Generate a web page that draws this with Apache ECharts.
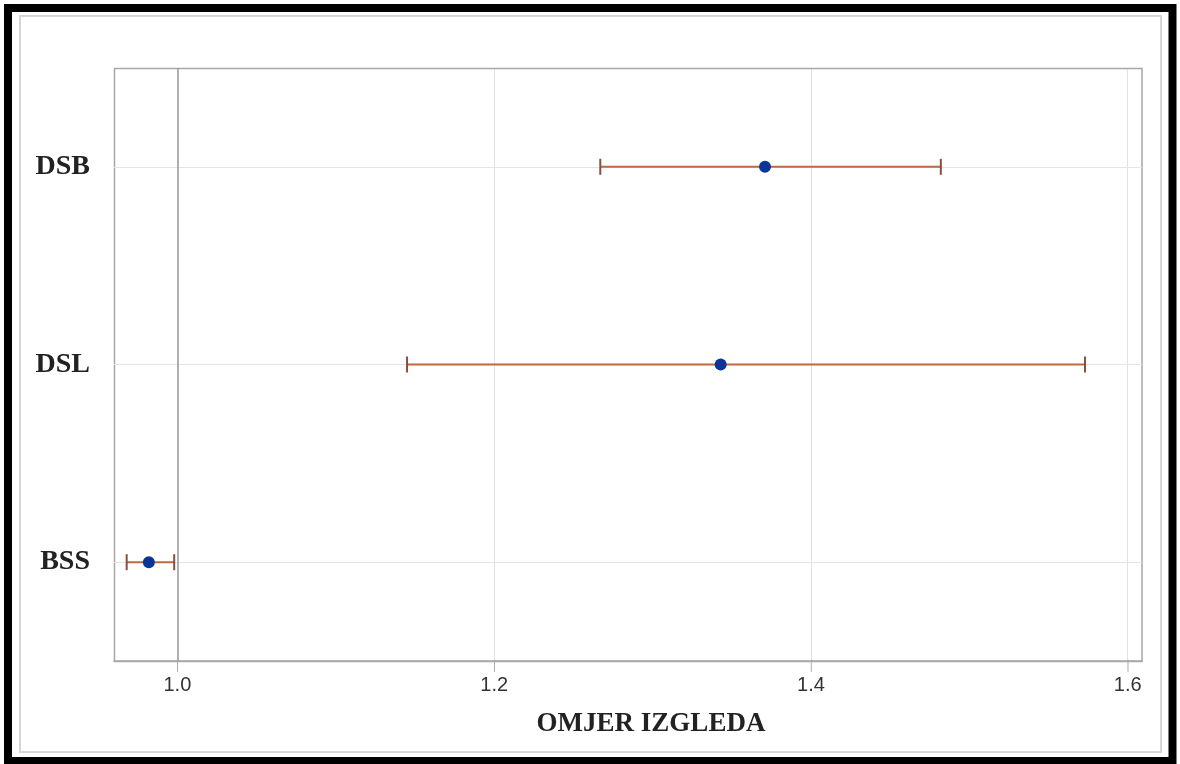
<!DOCTYPE html>
<html>
<head>
<meta charset="utf-8">
<script src="https://cdn.jsdelivr.net/npm/echarts@6/dist/echarts.min.js"></script>
<style>html,body{margin:0;padding:0;background:#fff;}#c{width:1180px;height:764px;}</style>
</head>
<body>
<div id="c"></div>
<script>
var categories = ['BSS', 'DSL', 'DSB'];
var estimates = [0.982, 1.343, 1.371];
var lowerCI = [0.968, 1.145, 1.267];
var upperCI = [0.998, 1.573, 1.482];
var xTicks = [1.0, 1.2, 1.4, 1.6];
var axisTitle = 'OMJER IZGLEDA';

var chart = echarts.init(document.getElementById('c'));
var ciData = categories.map(function (c, i) { return [i, lowerCI[i], upperCI[i]]; });
var ptData = categories.map(function (c, i) { return [estimates[i], i]; });

chart.setOption({
  animation: false,
  backgroundColor: '#ffffff',
  grid: { left: 114, right: 38, top: 68, bottom: 103, containLabel: false, show: false },
  xAxis: {
    type: 'value', min: 0.96, max: 1.609,
    name: axisTitle, nameLocation: 'middle', nameGap: 50,
    nameTextStyle: { fontFamily: 'Liberation Serif', fontWeight: 'bold', fontSize: 27, color: '#222', padding: [0, 0, 0, 46] },
    axisLine: { show: true, onZero: false, lineStyle: { color: '#a8a8a8', width: 1.5 } },
    axisTick: { show: false, customValues: xTicks },
    axisLabel: { customValues: xTicks, margin: 1, color: '#333',
      formatter: function (v) { return '{t|\u2502}\n{v|' + v.toFixed(1) + '}'; },
      rich: {
        t: { fontFamily: 'DejaVu Sans Mono', fontSize: 10, lineHeight: 9, color: '#9a9a9a' },
        v: { fontFamily: 'Liberation Sans', fontSize: 20, color: '#333', lineHeight: 24, padding: [5, 0, 0, 0] }
      }
    },
    splitLine: { show: true, lineStyle: { color: '#e2e2e2', width: 1 } }
  },
  yAxis: {
    type: 'category', data: categories, boundaryGap: true,
    axisLine: { show: false }, axisTick: { show: false },
    axisLabel: { margin: 24, fontFamily: 'Liberation Serif', fontWeight: 'bold', fontSize: 28, color: '#222' },
    splitLine: { show: false }
  },
  graphic: [
    { type: 'rect', shape: { x: 8, y: 8, width: 1164.5, height: 753 }, style: { fill: 'none', stroke: '#000', lineWidth: 8 }, z: 100 },
    { type: 'rect', shape: { x: 20, y: 16, width: 1141, height: 736 }, style: { fill: 'none', stroke: '#d6d6d6', lineWidth: 2 }, z: 100 },
    { type: 'rect', shape: { x: 114.5, y: 68.5, width: 1027.5, height: 593 }, style: { fill: 'none', stroke: '#a8a8a8', lineWidth: 1.5 }, z: 1 }
  ],
  series: [
    {
      type: 'line', data: [], z: 1,
      markLine: { silent: true, symbol: 'none', label: { show: false }, z: 1,
        lineStyle: { color: '#e4e4e4', width: 1, type: 'solid' },
        data: categories.map(function (c) { return { yAxis: c }; }).concat([
          { xAxis: 1.0, lineStyle: { color: '#9a9a9a', width: 1.5, type: 'solid' } }
        ]) }
    },
    {
      type: 'custom',
      data: ciData,
      encode: { x: [1, 2], y: 0 },
      renderItem: function (params, api) {
        var y = api.value(0);
        var p1 = api.coord([api.value(1), y]);
        var p2 = api.coord([api.value(2), y]);
        var h = 8;
        return {
          type: 'group',
          children: [
            { type: 'line', shape: { x1: p1[0], y1: p1[1], x2: p2[0], y2: p2[1] }, style: { stroke: '#c0683f', lineWidth: 2 } },
            { type: 'line', shape: { x1: p1[0], y1: p1[1] - h, x2: p1[0], y2: p1[1] + h }, style: { stroke: '#8a4f3c', lineWidth: 2 } },
            { type: 'line', shape: { x1: p2[0], y1: p2[1] - h, x2: p2[0], y2: p2[1] + h }, style: { stroke: '#8a4f3c', lineWidth: 2 } }
          ]
        };
      },
      z: 10
    },
    {
      type: 'scatter', data: ptData, symbol: 'circle', symbolSize: 12,
      itemStyle: { color: '#0a3597', opacity: 1 }, z: 12
    }
  ]
});
</script>
</body>
</html>
